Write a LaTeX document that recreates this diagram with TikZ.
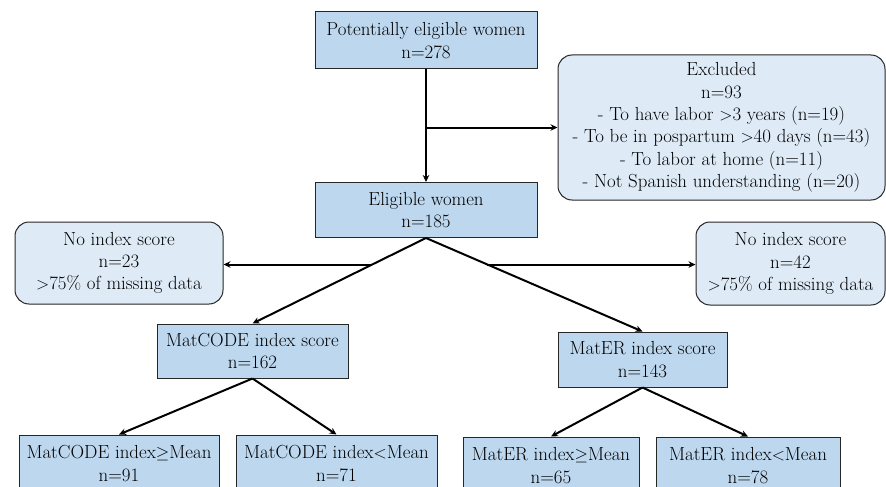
\documentclass[tikz,border=0pt]{standalone}
\usetikzlibrary{arrows.meta,calc}
\definecolor{boxblue}{HTML}{BDD7EE}
\definecolor{paleblue}{HTML}{DEEBF7}

\begin{document}
\begin{tikzpicture}[x=1pt,y=-1pt,
  box/.style={draw=black!85,line width=1pt,fill=boxblue,align=center,inner sep=0pt,
    font=\rmfamily\fontsize{18.9}{22.3}\selectfont},
  roundbox/.style={box,fill=paleblue,rounded corners=14pt},
  flow/.style={line width=2pt,-{Stealth[length=7pt,width=6.5pt]}}]
\clip (0,0) rectangle (886,487);
\fill[white] (0,0) rectangle (886,487);

% screening
\node[box,minimum width=222,minimum height=57] (pot) at (426,40.5) {Potentially eligible women\\n=278};
\node[roundbox,minimum width=327,minimum height=145] (excl) at (721.5,127.5)
  {Excluded\\n=93\\- To have labor $>$3 years (n=19)\\- To be in pospartum $>$40 days (n=43)\\- To labor at home (n=11)\\- Not Spanish understanding (n=20)};
\node[box,minimum width=222,minimum height=55] (elig) at (426,210) {Eligible women\\n=185};

% index scores
\node[roundbox,minimum width=208,minimum height=82] (noL) at (119,263) {No index score\\n=23\\$>$75\% of missing data};
\node[roundbox,minimum width=189,minimum height=83] (noR) at (790.5,263.5) {No index score\\n=42\\$>$75\% of missing data};
\node[box,minimum width=191,minimum height=54] (matc) at (252.5,351) {MatCODE index score\\n=162};
\node[box,minimum width=169,minimum height=55] (mate) at (642.5,359.5) {MatER index score\\n=143};

% split by mean
\node[box,minimum width=200,minimum height=57] (mc1) at (119,463.5) {MatCODE index$\geq$Mean\\n=91};
\node[box,minimum width=201,minimum height=57] (mc2) at (336.5,463.5) {MatCODE index$<$Mean\\n=71};
\node[box,minimum width=176,minimum height=57] (me1) at (551,465.5) {MatER index$\geq$Mean\\n=65};
\node[box,minimum width=184,minimum height=57] (me2) at (748,465.5) {MatER index$<$Mean\\n=78};

\draw[flow] (pot.south) -- (elig.north);
\draw[flow] (pot.south |- excl.west) -- (excl.west);

\draw[flow] (elig.south) -- (matc.north);
\draw[flow] (elig.south) -- (mate.north);
\coordinate (splitL) at ($(elig.south)!0.31!(matc.north)$);
\coordinate (splitR) at ($(elig.south)!0.284!(mate.north)$);
\draw[flow] (splitL) -- (splitL -| noL.east);
\draw[flow] (splitR) -- (splitR -| noR.west);

\draw[flow] (matc.south) -- (mc1.north);
\draw[flow] (matc.south) -- (mc2.north);
\draw[flow] (mate.south) -- (me1.north);
\draw[flow] (mate.south) -- (me2.north);
\end{tikzpicture}
\end{document}
